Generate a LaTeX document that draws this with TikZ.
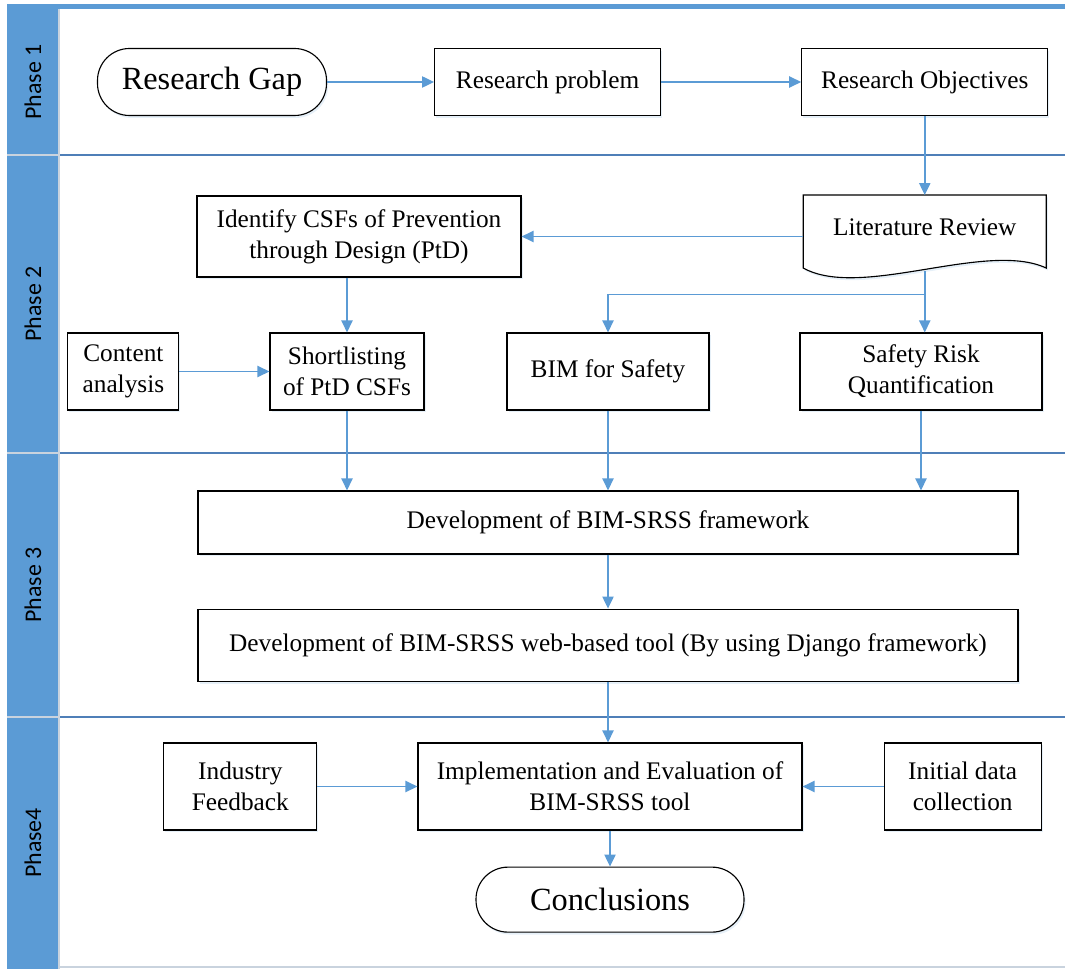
\documentclass[tikz,border=0pt]{standalone}
\usepackage{fontspec}
\setmainfont{Liberation Serif}
\newfontfamily\lanefont{Carlito}
\usetikzlibrary{arrows.meta,positioning,shadows}

\definecolor{officeblue}{HTML}{5B9BD5}
\definecolor{laneline}{HTML}{4F7FB8}
\definecolor{lanesep}{HTML}{C9D3DE}

\begin{document}
\begin{tikzpicture}[
    every node/.style={font=\fontsize{18}{22}\selectfont},
    softshadow/.style={drop shadow={shadow xshift=0.04cm, shadow yshift=-0.06cm, fill=officeblue!30, opacity=0.5}},
    box/.style={draw, line width=0.8pt, fill=white, align=center, inner sep=2pt, softshadow},
    terminal/.style={box, rounded corners=0.8cm, font=\fontsize{23}{26}\selectfont},
    doc/.style={align=center, minimum width=6.075cm, minimum height=1.825cm, text depth=0.25cm},
    phase/.style={rotate=90, font=\lanefont\fontsize{17}{20}\selectfont},
    flow/.style={-{Triangle[length=3mm, width=2.8mm]}, officeblue, line width=1.1pt}
]
\useasboundingbox (0,0) rectangle (26.625,-24.225);
% swimlanes
\fill[officeblue] (0.175,-0.1) rectangle (26.625,-0.225);
\fill[officeblue] (0.175,-0.225) rectangle (1.475,-24.225);
\foreach \y in {-3.875,-11.325,-17.925} {
  \draw[lanesep, line width=0.8pt] (0.175,\y) -- (1.475,\y);
  \draw[laneline, line width=0.8pt] (1.475,\y) -- (26.625,\y);
}
\draw[lanesep, line width=0.8pt] (1.475,-0.225) -- (1.475,-24.225);
\draw[lanesep, line width=0.8pt] (1.475,-24.175) -- (26.625,-24.175);
\node[phase] (p1) at (0.825,-2.05) {Phase 1};
\node[phase] (p2) at (0.825,-7.6) {Phase 2};
\node[phase] (p3) at (0.825,-14.625) {Phase 3};
\node[phase] (p4) at (0.825,-21.075) {Phase4};

% phase 1
\node[terminal, minimum width=5.725cm, minimum height=1.675cm] (gap) at (5.3,-2.05) {Research Gap};
\node[box, minimum width=5.65cm, minimum height=1.675cm, right=2.675cm of gap] (problem) {Research problem};
\node[box, minimum width=6.15cm, minimum height=1.675cm, right=3.5cm of problem] (objectives) {Research Objectives};

% phase 2
\coordinate[below=1.975cm of objectives.south] (littop);
\path (littop) ++(-3.0375,0) coordinate (litnw) ++(6.075,0) coordinate (litne)
  ++(0,-1.825) coordinate (litse) ++(-6.075,0) coordinate (litsw);
\draw[line width=0.8pt, fill=white, softshadow] (litnw) -- (litne) -- (litse)
  .. controls +(-1.5,0.7) and +(1.45,-0.8) .. (litsw) -- cycle;
\node[doc, below=0pt of littop] (litrev) {Literature Review};
\coordinate (litbot) at ([yshift=-0.05cm]litrev.south);
\coordinate[below=0.6cm of litbot] (split);
\node[box, minimum width=8.1cm, minimum height=2.025cm] (identify) at (8.975,-5.9125) {Identify CSFs of Prevention\\through Design (PtD)};
\node[box, minimum width=3.85cm, minimum height=1.925cm] (shortlist) at (8.675,-9.2875) {Shortlisting\\of PtD CSFs};
\node[box, minimum width=2.775cm, minimum height=1.925cm, left=2.25cm of shortlist] (content) {Content\\analysis};
\node[box, minimum width=5.05cm, minimum height=1.925cm] (bim) at (15.2,-9.2875) {BIM for Safety};
\node[box, minimum width=6.05cm, minimum height=1.925cm] (risk) at (23.025,-9.2875) {Safety Risk\\Quantification};

% phase 3
\node[box, minimum width=20.5cm, minimum height=1.575cm] (framework) at (15.2,-13.0625) {Development of BIM-SRSS framework};
\node[box, minimum width=20.5cm, minimum height=1.8cm, below=1.35cm of framework] (tool) {Development of BIM-SRSS web-based tool (By using Django framework)};

% phase 4
\node[box, minimum width=9.6cm, minimum height=2.175cm] (impl) at (15.25,-19.6625) {Implementation and Evaluation of\\BIM-SRSS tool};
\node[box, minimum width=3.825cm, minimum height=2.175cm, left=2.5cm of impl] (industry) {Industry\\Feedback};
\node[box, minimum width=3.925cm, minimum height=2.175cm, right=2.025cm of impl] (initial) {Initial data\\collection};
\node[terminal, minimum width=6.7cm, minimum height=1.625cm, below=0.9cm of impl] (concl) {Conclusions};

% connectors
\draw[flow] (gap) -- (problem);
\draw[flow] (problem) -- (objectives);
\draw[flow] (objectives.south) -- (litrev.north);
\draw[flow] (litrev.west |- identify.east) -- (identify.east);
\draw[flow] (litbot) -- (risk.north -| litbot);
\draw[flow] (split) -| (bim.north);
\draw[flow] (identify.south -| shortlist.north) -- (shortlist.north);
\draw[flow] (content) -- (shortlist);
\draw[flow] (shortlist.south) -- (shortlist.south |- framework.north);
\draw[flow] (bim.south) -- (bim.south |- framework.north);
\draw[flow] (risk.south) -- (risk.south |- framework.north);
\draw[flow] (framework) -- (tool);
\draw[flow] (tool.south) -- (tool.south |- impl.north);
\draw[flow] (industry) -- (impl);
\draw[flow] (initial) -- (impl);
\draw[flow] (impl) -- (concl);
\end{tikzpicture}
\end{document}
